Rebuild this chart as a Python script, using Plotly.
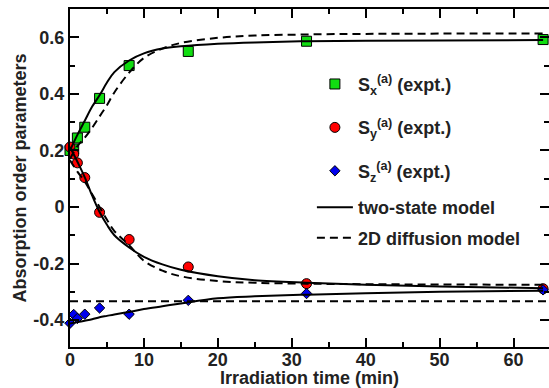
import plotly.graph_objects as go

# ---- experimental data ----
t_expt = [0, 0.5, 1, 2, 4, 8, 16, 32, 64]
sx_expt = [0.200, 0.205, 0.244, 0.282, 0.384, 0.500, 0.550, 0.586, 0.592]
sy_expt = [0.212, 0.187, 0.156, 0.104, -0.019, -0.115, -0.212, -0.271, -0.289]
sz_expt = [-0.411, -0.380, -0.394, -0.379, -0.357, -0.379, -0.330, -0.306, -0.293]

# ---- model curves ----
t_model = [0, 1, 2, 3, 4, 5, 6, 8, 10, 12.5, 15, 20, 25, 32, 40, 50, 64]
sx_two = [0.200, 0.255, 0.305, 0.355, 0.395, 0.440, 0.477, 0.518, 0.543, 0.560, 0.568, 0.577, 0.582, 0.586, 0.588, 0.589, 0.590]
sy_two = [0.212, 0.160, 0.105, 0.040, -0.018, -0.063, -0.100, -0.143, -0.176, -0.203, -0.222, -0.245, -0.259, -0.268, -0.275, -0.281, -0.287]
sz_two = [-0.412, -0.407, -0.402, -0.397, -0.390, -0.385, -0.380, -0.371, -0.361, -0.351, -0.341, -0.323, -0.316, -0.310, -0.305, -0.300, -0.296]

sx_diff = [0.170, 0.215, 0.245, 0.280, 0.320, 0.360, 0.405, 0.475, 0.527, 0.560, 0.580, 0.598, 0.606, 0.610, 0.612, 0.613, 0.613]
sy_diff = [0.165, 0.125, 0.090, 0.045, 0.000, -0.045, -0.085, -0.135, -0.190, -0.225, -0.245, -0.262, -0.268, -0.271, -0.273, -0.274, -0.275]
t_sz_diff = [0, 64.8]
sz_diff = [-0.333, -0.333]

x_ticks = [0, 10, 20, 30, 40, 50, 60]
y_ticks = [-0.4, -0.2, 0, 0.2, 0.4, 0.6]
y_ticktext = ["-0.4", "-0.2", "0", "0.2", "0.4", "0.6"]

FONT = dict(family="Liberation Sans, Arial, sans-serif", size=18, color="#222222", weight="bold")

fig = go.Figure()

fig.add_trace(go.Scatter(
    x=t_expt, y=sx_expt, mode="markers", name="S<sub>x</sub><sup>(a)</sup> (expt.)",
    marker=dict(symbol="square", size=10, color="#11dd11", line=dict(color="black", width=1)),
    cliponaxis=False, legend="legend", legendgroup="a"))
fig.add_trace(go.Scatter(
    x=t_expt, y=sy_expt, mode="markers", name="S<sub>y</sub><sup>(a)</sup> (expt.)",
    marker=dict(symbol="circle", size=10, color="#ff0000", line=dict(color="black", width=1)),
    cliponaxis=False, legend="legend", legendgroup="b"))
fig.add_trace(go.Scatter(
    x=t_expt, y=sz_expt, mode="markers", name="S<sub>z</sub><sup>(a)</sup> (expt.)",
    marker=dict(symbol="diamond", size=8, color="#0000ee", line=dict(color="black", width=1)),
    cliponaxis=False, legend="legend", legendgroup="c"))

solid = dict(color="black", width=2)
dashed = dict(color="black", width=2, dash="8px,5px")

fig.add_trace(go.Scatter(x=t_model, y=sx_two, mode="lines", line=dict(**solid, shape="spline"),
                         name="two-state model", legend="legend2", legendgroup="d", cliponaxis=False))
fig.add_trace(go.Scatter(x=t_model, y=sy_two, mode="lines", line=dict(**solid, shape="spline"),
                         showlegend=False, cliponaxis=False))
fig.add_trace(go.Scatter(x=t_model, y=sz_two, mode="lines", line=dict(**solid, shape="spline"),
                         showlegend=False, cliponaxis=False))
fig.add_trace(go.Scatter(x=t_model, y=sx_diff, mode="lines", line=dict(**dashed, shape="spline"),
                         name="2D diffusion model", legend="legend2", legendgroup="e", cliponaxis=False))
fig.add_trace(go.Scatter(x=t_model, y=sy_diff, mode="lines", line=dict(**dashed, shape="spline"),
                         showlegend=False, cliponaxis=False))
fig.add_trace(go.Scatter(x=t_sz_diff, y=sz_diff, mode="lines", line=dashed,
                         showlegend=False, cliponaxis=False))

axis_common = dict(showline=True, linewidth=2, linecolor="black", mirror="ticks",
                   ticks="inside", ticklen=9, tickwidth=1.5, tickcolor="black",
                   showgrid=False, zeroline=False, tickfont=FONT, automargin=False)

fig.update_layout(
    width=549, height=388,
    margin=dict(l=70, r=0, t=9, b=41),
    paper_bgcolor="white", plot_bgcolor="white",
    font=FONT,
    xaxis=dict(range=[0, 64.8], tickvals=x_ticks, ticklabelstandoff=-5,
               minor=dict(dtick=5, tick0=0, ticks="inside", ticklen=5, tickwidth=1.5, tickcolor="black"),
               title=dict(text="Irradiation time (min)", font=FONT, standoff=0),
               **axis_common),
    yaxis=dict(range=[-0.495, 0.7], tickvals=y_ticks, ticktext=y_ticktext,
               minor=dict(dtick=0.1, tick0=0, ticks="inside", ticklen=5, tickwidth=1.5, tickcolor="black"),
               title=dict(text="Absorption order parameters", font=FONT, standoff=2),
               **axis_common),
    legend=dict(x=0.505, xanchor="left", y=0.832, yanchor="top", bgcolor="rgba(0,0,0,0)",
                font=FONT, traceorder="grouped", tracegroupgap=17, borderwidth=0, itemwidth=36),
    legend2=dict(x=0.505, xanchor="left", y=0.467, yanchor="top", bgcolor="rgba(0,0,0,0)",
                 font=FONT, traceorder="grouped", tracegroupgap=4, borderwidth=0, itemwidth=36),
    showlegend=True,
)

fig.write_html("out.html", post_script="document.body.style.margin='0';",
               config={"displayModeBar": False})
